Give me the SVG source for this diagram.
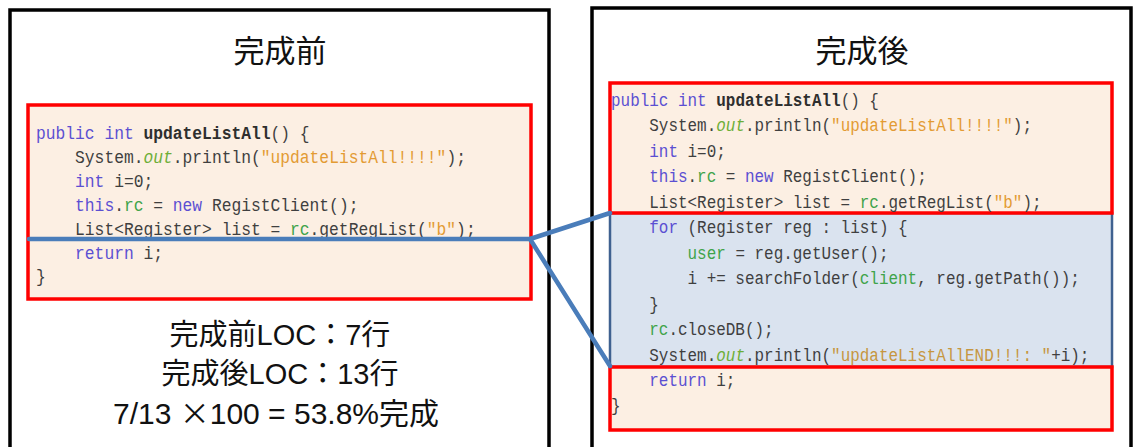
<svg xmlns="http://www.w3.org/2000/svg" width="1135" height="447" viewBox="0 0 1135 447">
<style>
.panel{fill:#FFFFFF;stroke:#000000;stroke-width:3.5}
.codebox{fill:#FCEFE3;stroke:#FF0000;stroke-width:3.5}
.addbox{fill:#DAE3EF;stroke:#3F6190;stroke-width:2.5}
.title{font-family:"Noto Sans CJK JP","Noto Sans",sans-serif;font-size:31px;fill:#111111;text-anchor:middle}
.sum{font-family:"Liberation Sans","Noto Sans CJK JP",sans-serif;font-size:29px;fill:#111111;text-anchor:middle}
.fw{font-family:"Noto Sans CJK JP",sans-serif}
.code{font-family:"Liberation Mono","DejaVu Sans Mono",monospace;font-size:18px;fill:#3F3F3F}
.kw{fill:#5B4FD2}
.str{fill:#E39B33}
.str2{fill:#C69640}
.fld{fill:#3FA34A}
.out{fill:#6DAE38;font-style:italic}
.mn{font-weight:bold;fill:#2E2E2E}
.conn{fill:none;stroke:#4A7DBA;stroke-width:4.5;stroke-linejoin:round;stroke-linecap:round}
</style>
<rect width="1135" height="447" fill="#FFFFFF"/>

<g id="before-panel">
  <rect class="panel" x="10" y="10" width="539" height="460"/>
  <text class="title" x="280" y="62">完成前</text>
</g>

<g id="after-panel">
  <rect class="panel" x="592" y="8" width="539" height="460"/>
  <text class="title" x="862" y="62">完成後</text>
</g>

<g id="before-code">
  <rect class="codebox" x="28" y="105" width="503" height="194"/>
  <g transform="translate(36,0) scale(0.905,1)">
    <text class="code" x="0" y="139"><tspan class="kw">public int</tspan> <tspan class="mn">updateListAll</tspan>() {</text>
    <text class="code" x="43.2" y="163">System.<tspan class="out">out</tspan>.println(<tspan class="str">"updateListAll!!!!"</tspan>);</text>
    <text class="code" x="43.2" y="187"><tspan class="kw">int</tspan> i=0;</text>
    <text class="code" x="43.2" y="211"><tspan class="kw">this</tspan>.<tspan class="fld">rc</tspan> = <tspan class="kw">new</tspan> RegistClient();</text>
    <text class="code" x="43.2" y="235">List&lt;Register&gt; list = <tspan class="fld">rc</tspan>.getRegList(<tspan class="str">"b"</tspan>);</text>
    <text class="code" x="43.2" y="259"><tspan class="kw">return</tspan> i;</text>
    <text class="code" x="0" y="282">}</text>
  </g>
</g>

<g id="after-code-added">
  <rect class="addbox" x="610" y="213" width="502" height="154"/>
</g>

<g id="after-code-top">
  <rect class="codebox" x="610" y="83" width="502" height="130"/>
</g>

<g id="after-code-bottom">
  <rect class="codebox" x="610" y="367" width="502" height="63"/>
</g>

<g id="after-code-text" transform="translate(611,0) scale(0.886,1)">
  <text class="code" x="0" y="106"><tspan class="kw">public int</tspan> <tspan class="mn">updateListAll</tspan>() {</text>
  <text class="code" x="43.2" y="131.5">System.<tspan class="out">out</tspan>.println(<tspan class="str">"updateListAll!!!!"</tspan>);</text>
  <text class="code" x="43.2" y="157"><tspan class="kw">int</tspan> i=0;</text>
  <text class="code" x="43.2" y="182.5"><tspan class="kw">this</tspan>.<tspan class="fld">rc</tspan> = <tspan class="kw">new</tspan> RegistClient();</text>
  <text class="code" x="43.2" y="208">List&lt;Register&gt; list = <tspan class="fld">rc</tspan>.getRegList(<tspan class="str">"b"</tspan>);</text>
  <text class="code" x="43.2" y="233.5"><tspan class="kw">for</tspan> (Register reg : list) {</text>
  <text class="code" x="86.4" y="259"><tspan class="fld">user</tspan> = reg.getUser();</text>
  <text class="code" x="86.4" y="284.5">i += searchFolder(<tspan class="fld">client</tspan>, reg.getPath());</text>
  <text class="code" x="43.2" y="310">}</text>
  <text class="code" x="43.2" y="335.5"><tspan class="fld">rc</tspan>.closeDB();</text>
  <text class="code" x="43.2" y="361">System.<tspan class="out">out</tspan>.println(<tspan class="str2">"updateListAllEND!!!: "</tspan>+i);</text>
  <text class="code" x="43.2" y="386.5"><tspan class="kw">return</tspan> i;</text>
  <text class="code" x="0" y="411">}</text>
</g>

<g id="summary">
  <text class="sum" x="280" y="345">完成前LOC：7行</text>
  <text class="sum" x="280" y="384">完成後LOC：13行</text>
  <text class="sum" x="276" y="424" style="font-size:30px">7/13 <tspan class="fw">×</tspan>100 = 53.8%完成</text>
</g>

<g id="connectors">
  <polyline class="conn" points="29,239 530,239 610,213"/>
  <line class="conn" x1="530" y1="239" x2="610" y2="366"/>
</g>
</svg>
